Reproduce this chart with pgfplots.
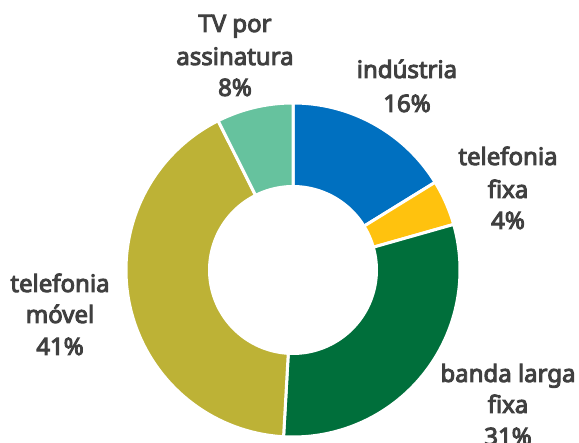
\documentclass[border=0pt]{standalone}
\usepackage{fontspec}
\setmainfont{Noto Sans}[BoldFont={Noto Sans}, BoldFeatures={FakeBold=4}]
\usepackage{pgfplots}
\usepackage{pgfplotstable}
\pgfplotsset{compat=1.18}
\definecolor{cInd}{HTML}{0070C0}
\definecolor{cFixa}{HTML}{FFC20E}
\definecolor{cBanda}{HTML}{006F3B}
\definecolor{cMovel}{HTML}{BDB236}
\definecolor{cTV}{HTML}{66C29E}
\definecolor{txt}{HTML}{404040}
\pgfplotstableread{
label value
industria 16.2
fixa 4.4
banda 30.3
movel 41.7
tv 7.4
}\shares
\begin{document}
\begin{tikzpicture}
\pgfplotstablegetelem{0}{value}\of\shares\let\vA\pgfplotsretval
\pgfplotstablegetelem{1}{value}\of\shares\let\vB\pgfplotsretval
\pgfplotstablegetelem{2}{value}\of\shares\let\vC\pgfplotsretval
\pgfplotstablegetelem{3}{value}\of\shares\let\vD\pgfplotsretval
\pgfplotstablegetelem{4}{value}\of\shares\let\vE\pgfplotsretval
\pgfmathsetmacro\aO{90}
\pgfmathsetmacro\aA{\aO-3.6*\vA}
\pgfmathsetmacro\aB{\aA-3.6*\vB}
\pgfmathsetmacro\aC{\aB-3.6*\vC}
\pgfmathsetmacro\aD{\aC-3.6*\vD}
\pgfmathsetmacro\aE{\aD-3.6*\vE}
\begin{axis}[at={(0,0)}, anchor=south west, scale only axis,
  width=579pt, height=443pt, xmin=0, xmax=579, ymin=0, ymax=443,
  hide axis, clip=false]
\def\cx{293}\def\cy{173}\def\R{167}
\addplot[fill=cInd, draw=white, line width=3pt, domain=\aA:\aO, samples=80, variable=\t]
  ({\cx+\R*cos(\t)},{\cy+\R*sin(\t)}) -- (axis cs:\cx,\cy) -- cycle;
\addplot[fill=cFixa, draw=white, line width=3pt, domain=\aB:\aA, samples=30, variable=\t]
  ({\cx+\R*cos(\t)},{\cy+\R*sin(\t)}) -- (axis cs:\cx,\cy) -- cycle;
\addplot[fill=cBanda, draw=white, line width=3pt, domain=\aC:\aB, samples=120, variable=\t]
  ({\cx+\R*cos(\t)},{\cy+\R*sin(\t)}) -- (axis cs:\cx,\cy) -- cycle;
\addplot[fill=cMovel, draw=white, line width=3pt, domain=\aD:\aC, samples=150, variable=\t]
  ({\cx+\R*cos(\t)},{\cy+\R*sin(\t)}) -- (axis cs:\cx,\cy) -- cycle;
\addplot[fill=cTV, draw=white, line width=3pt, domain=\aE:\aD, samples=40, variable=\t]
  ({\cx+\R*cos(\t)},{\cy+\R*sin(\t)}) -- (axis cs:\cx,\cy) -- cycle;
\addplot[fill=white, draw=none, domain=0:360, samples=150, variable=\t]
  ({\cx+85*cos(\t)},{\cy+85*sin(\t)}) -- cycle;
\tikzset{lab/.style={anchor=base, text=txt, font=\fontsize{24}{28}\selectfont\bfseries, inner sep=0pt}}
\node[lab] at (axis cs:235,411) {TV por};
\node[lab] at (axis cs:235,378) {assinatura};
\node[lab] at (axis cs:235,347) {8\%};
\node[lab] at (axis cs:407,365) {indústria};
\node[lab] at (axis cs:407,331) {16\%};
\node[lab] at (axis cs:508,278) {telefonia};
\node[lab] at (axis cs:508,245) {fixa};
\node[lab] at (axis cs:508,214) {4\%};
\node[lab] at (axis cs:60,151) {telefonia};
\node[lab] at (axis cs:60,120) {móvel};
\node[lab] at (axis cs:60,88) {41\%};
\node[lab] at (axis cs:508,61) {banda larga};
\node[lab] at (axis cs:508,30) {fixa};
\node[lab] at (axis cs:508,-2) {31\%};
\end{axis}
\pgfresetboundingbox
\useasboundingbox (0,0) rectangle (579pt,443pt);
\end{tikzpicture}
\end{document}
